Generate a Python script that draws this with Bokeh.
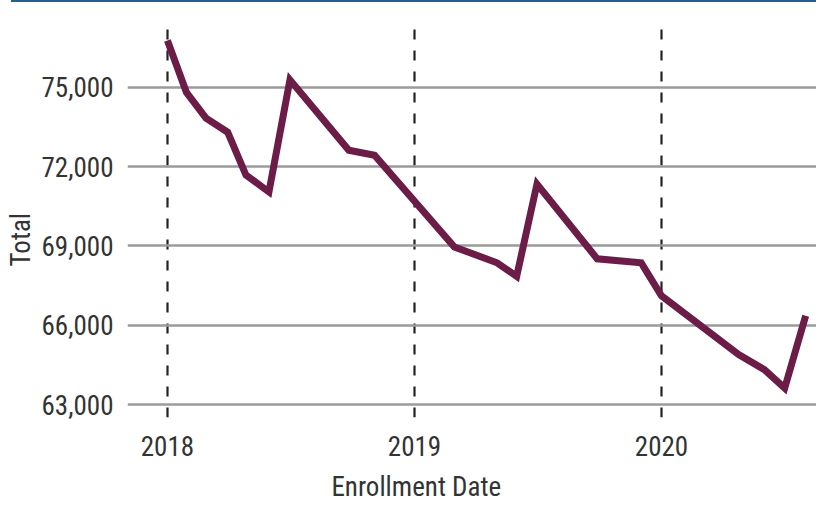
import calendar
from datetime import datetime
from bokeh.plotting import figure
from bokeh.layouts import column
from bokeh.models import (FixedTicker, NumeralTickFormatter, DatetimeTickFormatter,
                          Range1d, Div)
from bokeh.embed import file_html
from bokeh.resources import INLINE

# ---- data ----
dates = ["2018-01-01", "2018-01-29", "2018-02-27", "2018-03-31", "2018-04-27",
         "2018-05-31", "2018-07-01", "2018-09-26", "2018-11-03", "2019-03-01",
         "2019-05-03", "2019-06-01", "2019-07-01", "2019-09-28", "2019-12-02",
         "2020-01-01", "2020-04-24", "2020-06-01", "2020-07-01", "2020-08-01"]
totals = [76770, 74810, 73830, 73300, 71680,
          71040, 75280, 72620, 72430, 68960,
          68360, 67850, 71340, 68510, 68360,
          67110, 64890, 64320, 63620, 66360]
year_ticks = ["2018-01-01", "2019-01-01", "2020-01-01"]
y_ticks = [63000, 66000, 69000, 72000, 75000]
x_title = "Enrollment Date"
y_title = "Total"

FONT = "Roboto Condensed, Liberation Sans, sans-serif"
TXT = "#333333"
NBSP = "\u00a0"

def ms(s):
    return calendar.timegm(datetime.strptime(s, "%Y-%m-%d").timetuple()) * 1000.0

xs = [ms(d) for d in dates]
tick_ms = [ms(t) for t in year_ticks]

p = figure(width=816, height=503, x_axis_type="datetime",
           output_backend="svg", toolbar_location=None,
           x_range=Range1d(ms("2017-11-03"), ms("2020-08-17")),
           y_range=Range1d(62510, 77600),
           min_border_left=127, min_border_right=0,
           min_border_top=16, min_border_bottom=87)
p.outline_line_color = None
p.background_fill_color = "white"
p.border_fill_color = "white"

# y grid (solid gray)
p.ygrid.ticker = FixedTicker(ticks=y_ticks)
p.ygrid.grid_line_color = "#9b9b9b"
p.ygrid.grid_line_width = 2.5

# x grid (dashed year markers)
p.xgrid.ticker = FixedTicker(ticks=tick_ms)
p.xgrid.grid_line_color = "#222222"
p.xgrid.grid_line_width = 2.2
p.xgrid.grid_line_dash = "10 11"

p.line(xs, totals, line_color="#6b1c47", line_width=7, line_join="miter")

# axes
yax = p.yaxis[0]
yax.ticker = FixedTicker(ticks=y_ticks)
yax.formatter = NumeralTickFormatter(format="0,0")
# trailing no-break spaces shift the titles off-centre like in the reference
yax.axis_label = y_title + NBSP * 7
xax = p.xaxis[0]
xax.ticker = FixedTicker(ticks=tick_ms)
xax.formatter = DatetimeTickFormatter(years="%Y", months="%Y", days="%Y",
                                      hours="%Y", minutes="%Y", seconds="%Y")
xax.axis_label = x_title + NBSP * 18
for ax in (xax, yax):
    ax.axis_line_color = None
    ax.major_tick_line_color = None
    ax.minor_tick_line_color = None
    ax.major_tick_out = 0
    ax.major_tick_in = 0
    ax.minor_tick_out = 0
    ax.minor_tick_in = 0
    ax.major_label_text_font = FONT
    ax.major_label_text_font_size = "27px"
    ax.major_label_text_color = TXT
    ax.axis_label_text_font = FONT
    ax.axis_label_text_font_size = "27px"
    ax.axis_label_text_font_style = "normal"
    ax.axis_label_text_color = TXT
yax.major_label_standoff = 14
yax.axis_label_standoff = 2
xax.major_label_standoff = 18
xax.axis_label_standoff = 12

# thin blue rule at the very top of the page
rule = Div(text="", width=805, height=2, margin=(0, 0, 0, 11),
           styles={"background-color": "#236192"})

layout = column(rule, p, spacing=0)
open("out.html", "w").write(file_html(layout, INLINE))
